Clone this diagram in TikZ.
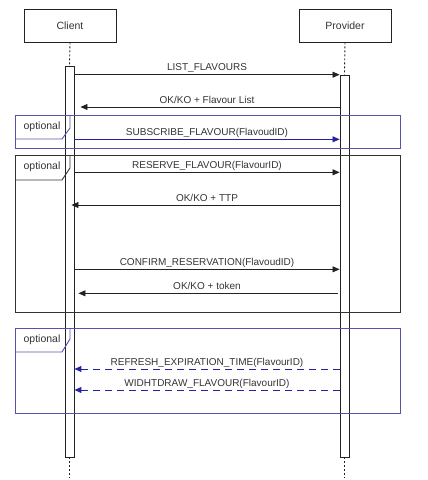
\documentclass[tikz,border=0pt]{standalone}
\usepackage{fontspec}
\setmainfont{Liberation Sans}
\usetikzlibrary{arrows.meta}
\definecolor{ink}{HTML}{222222}
\definecolor{txt}{HTML}{333333}
\definecolor{framebl}{HTML}{5454AE}
\definecolor{msgbl}{HTML}{2424A0}

\begin{document}
\begin{tikzpicture}[x=1pt,y=-1pt,
  head/.style={draw=ink, line width=0.9pt, minimum width=92pt, minimum height=33pt,
    inner sep=0pt, text=txt, font=\fontsize{10.5}{12}\selectfont},
  actbar/.style={draw=ink, fill=white, line width=0.9pt, minimum width=9pt, inner sep=0pt},
  life/.style={draw=ink, line width=0.9pt, dash pattern=on 2pt off 2pt},
  msg/.style={draw=ink, line width=0.8pt, -{Triangle[length=7pt,width=6pt]}},
  msgblue/.style={draw=msgbl, line width=0.8pt, -{Triangle[length=7pt,width=6pt]}},
  msgdash/.style={msgblue, line width=1pt, dash pattern=on 7pt off 5pt},
  lbl/.style={anchor=base, yshift=4pt, inner sep=0pt, text=txt, font=\fontsize{10}{12}\selectfont},
  framebox/.style={draw=#1, line width=0.9pt, minimum width=385pt, inner sep=0pt, anchor=north west},
  tabline/.style={draw=#1, line width=0.9pt},
  tabtext/.style={text=txt, inner sep=0pt, font=\fontsize{10.5}{12}\selectfont}
]
\useasboundingbox (0,0) rectangle (428,480);

% participants
\node[head] (client) at (70,25.5) {Client};
\node[head] (provider) at (345,25.5) {Provider};

% activation bars
\node[actbar, minimum height=391pt] (cbar) at (69.5,261.5) {};
\node[actbar, minimum height=382pt] (pbar) at (344.5,266) {};

% lifelines
\coordinate (cend) at (69.5,478);
\coordinate (pend) at (344.5,478);
\draw[life] (client.south) -- (cbar.north);
\draw[life] (provider.south) -- (pbar.north);
\draw[life] (cbar.south) -- (cend);
\draw[life] (pbar.south) -- (pend);

% optional fragments
\node[framebox=framebl, minimum height=33pt] (opt1) at (15,115) {};
\draw[tabline=framebl] ([yshift=-24pt]opt1.north west) -- ++(47,0) -- ++(8,-11) -- ++(0,-13);
\node[tabtext] (opt1t) at (42,127) {optional};

\node[framebox=txt, minimum height=157pt] (opt2) at (15,155) {};
\draw[tabline=txt] ([yshift=-25pt]opt2.north west) -- ++(47,0) -- ++(8,-12) -- ++(0,-13);
\node[tabtext] (opt2t) at (42,167) {optional};

\node[framebox=framebl, minimum height=85pt] (opt3) at (15,328) {};
\draw[tabline=framebl] ([yshift=-24pt]opt3.north west) -- ++(47,0) -- ++(8,-13) -- ++(0,-11);
\node[tabtext] (opt3t) at (42,339.5) {optional};

% messages
\draw[msg] (cbar.east |- 0,74.7) -- node[lbl] {LIST\_FLAVOURS} (pbar.west |- 0,74.7);
\draw[msg, shorten >=6pt] (pbar.west |- 0,107) -- node[lbl] {OK/KO + Flavour List} (cbar.east |- 0,107);
\draw[msgblue] (cbar.east |- 0,139.3) -- node[lbl] {SUBSCRIBE\_FLAVOUR(FlavoudID)} (pbar.west |- 0,139.3);

\draw[msg] (cbar.east |- 0,172.3) -- node[lbl] {RESERVE\_FLAVOUR(FlavourID)} (pbar.west |- 0,172.3);
\draw[msg, shorten >=-3pt] (pbar.west |- 0,205) -- node[lbl] {OK/KO + TTP} (cbar.east |- 0,205);
\draw[msg] (cbar.east |- 0,269.3) -- node[lbl] {CONFIRM\_RESERVATION(FlavoudID)} (pbar.west |- 0,269.3);
\draw[msg, shorten <=2pt, shorten >=4pt] (pbar.west |- 0,293.3) -- node[lbl] {OK/KO + token} (cbar.east |- 0,293.3);

\draw[msgdash] (pbar.west |- 0,369) -- node[lbl] {REFRESH\_EXPIRATION\_TIME(FlavourID)} (cbar.east |- 0,369);
\draw[msgdash] (pbar.west |- 0,390) -- node[lbl] {WIDHTDRAW\_FLAVOUR(FlavourID)} (cbar.east |- 0,390);
\end{tikzpicture}
\end{document}
